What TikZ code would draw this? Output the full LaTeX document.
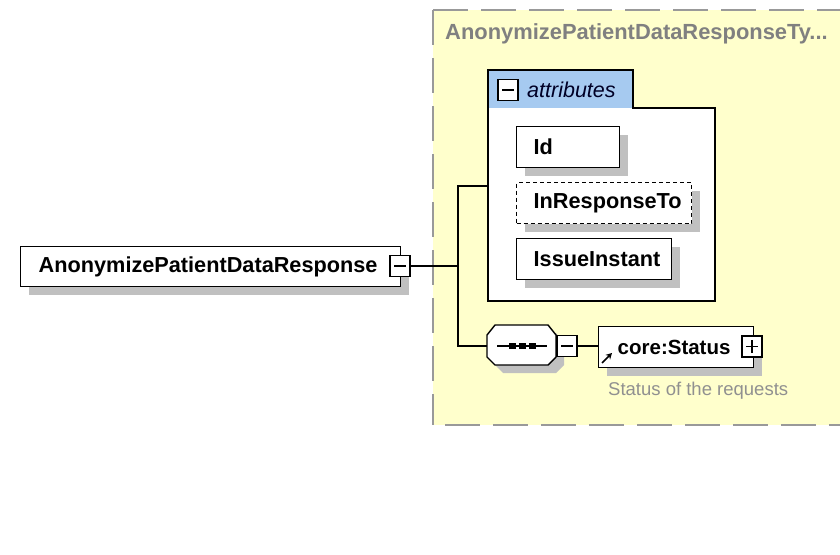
\documentclass[tikz,border=0pt]{standalone}
\usepackage{fontspec}
\setmainfont{Liberation Sans}
\usetikzlibrary{shadows,arrows.meta}
\definecolor{paneyellow}{HTML}{FFFFCC}
\definecolor{tabblue}{HTML}{A6CAF0}
\definecolor{shadowgray}{HTML}{C0C0C0}
\definecolor{framegray}{HTML}{999999}
\definecolor{titlegray}{HTML}{808080}
\definecolor{notegray}{HTML}{909090}
\begin{document}
\begin{tikzpicture}[x=1pt,y=-1pt,
  elem/.style={draw=black, line width=1.4pt, fill=white, anchor=north west,
    align=left, inner ysep=0pt, font=\bfseries\fontsize{21.7}{21.7}\selectfont,
    drop shadow={shadow xshift=8pt, shadow yshift=-8pt, fill=shadowgray, opacity=1}},
  pm/.style={draw=black, line width=1.2pt, fill=white, minimum width=20pt, minimum height=21pt, inner sep=0pt},
  minusbox/.style={pm, path picture={\draw[line width=1.2pt]
      ([xshift=4pt]path picture bounding box.west) -- ([xshift=-4pt]path picture bounding box.east);}},
  plusbox/.style={pm, path picture={\draw[line width=1.2pt]
      ([xshift=4pt]path picture bounding box.west) -- ([xshift=-4pt]path picture bounding box.east)
      ([yshift=-4pt]path picture bounding box.north) -- ([yshift=4pt]path picture bounding box.south);}},
  conn/.style={draw=black, line width=1.3pt}]

\useasboundingbox (0,0) rectangle (840,554);
\clip (0,0) rectangle (840,554);
\fill[white] (0,0) rectangle (840,554);

% complex type pane
\fill[paneyellow] (433,10) rectangle (870,425);
\draw[framegray, line width=1.3pt, dash pattern=on 35pt off 13pt]
  (433,10) -- (870,10) (433,10) -- (433,425) (445,425) -- (870,425);
\node[anchor=west, text=titlegray, font=\bfseries\fontsize{21.9}{21.9}\selectfont, inner sep=0pt]
  (title) at (445,34) {AnonymizePatientDataResponseTy...};

% attribute group
\fill[tabblue] (488,70) rectangle (633,108);
\fill[white] (488,108) rectangle (715,301);
\draw[line width=1.4pt] (488,70) -- (633,70) -- (633,108) -- (715,108) -- (715,301) -- (488,301) -- cycle;
\node[minusbox] (attrminus) at (508,90) {};
\node[anchor=west, inner sep=0pt, font=\itshape\fontsize{21.5}{21.5}\selectfont, text=black!85!blue]
  (attrlabel) at (527,90) {attributes};
\coordinate (attrin) at (488,186);

\node[elem, text width=69pt, inner xsep=17pt, minimum height=41pt] (id) at (516,126) {Id};
\node[elem, text width=141pt, inner xsep=17pt, minimum height=41pt, dash pattern=on 4pt off 3pt]
  (inresp) at (516,182) {InResponseTo};
\node[elem, text width=121pt, inner xsep=17pt, minimum height=41pt] (issue) at (516,238) {IssueInstant};

% root element
\node[elem, text width=344pt, inner xsep=18pt, minimum height=40pt] (root) at (20,246) {AnonymizePatientDataResponse};
\node[minusbox] (rootminus) at (400,266) {};

% sequence compositor
\fill[shadowgray] (503,333) -- (556,333) -- (564,343) -- (564,365) -- (556,373) -- (503,373) -- (495,365) -- (495,343) -- cycle;
\draw[line width=1.4pt, fill=white] (495,325) -- (548,325) -- (556,335) -- (556,357) -- (548,365) -- (495,365) -- (487,357) -- (487,335) -- cycle;
\node[minimum width=69pt, minimum height=40pt, inner sep=0pt] (seq) at (521.5,345) {};
\draw[line width=1.3pt] (497,346) -- (547,346);
\foreach \dx in {512,522,532} \fill (\dx-3.5,343) rectangle (\dx+3.5,349);
\node[minusbox] (seqminus) at (567,346) {};
\coordinate (seqin) at (487,346);

% referenced element
\node[elem, text width=117pt, inner xsep=19pt, minimum height=41pt, font=\bfseries\fontsize{20.5}{20.5}\selectfont]
  (status) at (598,326) {core:Status};
\node[plusbox] (statusplus) at (752,346.5) {};
\draw[line width=1.5pt, -{Stealth[length=6pt,width=6.5pt]}] (602,363) -- (612,353);
\node[anchor=west, inner sep=0pt, text=notegray, font=\fontsize{18.5}{18.5}\selectfont]
  (statusdoc) at (608,391) {Status of the requests};

% connectors
\coordinate (fork) at (458,266);
\draw[conn] (rootminus.east) -- (fork);
\draw[conn] (fork) |- (attrin);
\draw[conn] (fork) |- (seqin);
\draw[conn] (seqminus.east) -- (status.west |- seqminus.east);
\end{tikzpicture}
\end{document}
